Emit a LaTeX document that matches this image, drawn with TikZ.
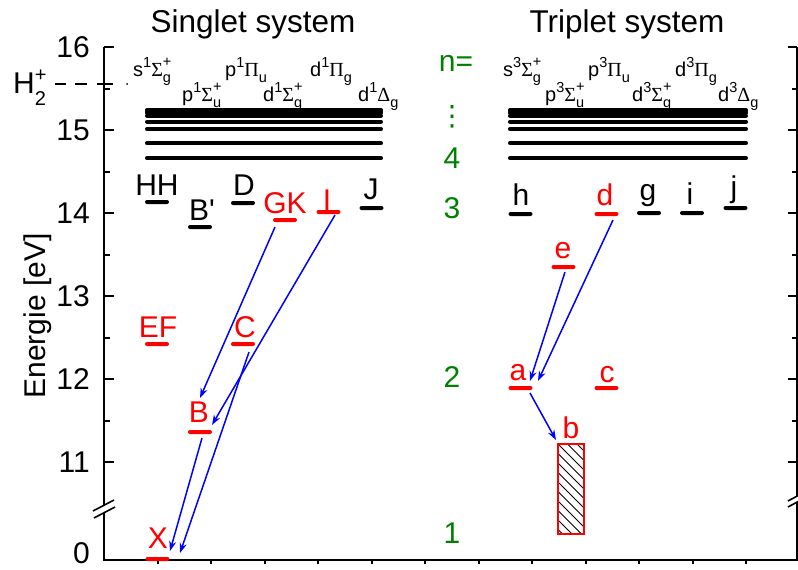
\documentclass[tikz,border=0pt]{standalone}
\usepackage{fontspec}
\setmainfont{Liberation Sans}
\newfontfamily\greekserif{Liberation Serif}
\newfontfamily\symfont{DejaVu Sans}
\usetikzlibrary{arrows.meta}

\definecolor{lvred}{RGB}{255,0,0}
\definecolor{lvgreen}{RGB}{0,128,0}
\definecolor{lvblue}{RGB}{0,0,255}

\newcommand{\bigtxt}{\fontsize{30}{33}\selectfont}
\newcommand{\termtxt}{\fontsize{20}{22}\selectfont}
\newcommand{\scripttxt}{\fontsize{14.5}{14.5}\selectfont}
% term symbol: #1 orbital, #2 multiplicity, #3 Greek letter, #4 subscript, #5 superscript
\newcommand{\term}[5]{#1\raisebox{0.42em}{\scripttxt #2}{\greekserif #3}\rlap{\raisebox{0.5em}{\scripttxt #5}}\raisebox{-0.3em}{\scripttxt #4}}

\begin{document}
\begin{tikzpicture}[x=1pt,y=-1pt,
  lbl/.style={font=\bigtxt, inner sep=0pt, anchor=base},
  redlbl/.style={lbl, text=lvred},
  nlbl/.style={font=\bigtxt, inner sep=0pt, text=lvgreen},
  ticklbl/.style={font=\bigtxt, inner sep=0pt, anchor=east},
  termlbl/.style={font=\termtxt, inner sep=0pt, anchor=base west},
  levelbar/.style={fill=black, minimum width=24pt, minimum height=4pt, inner sep=0pt, rounded corners=2pt},
  redbar/.style={levelbar, fill=lvred},
  rydberg/.style={line width=4pt, line cap=round},
  axisline/.style={line width=2pt},
  trans/.style={lvblue, line width=1.5pt, -{Stealth[length=10pt,width=7pt]}},
  ionline/.style={line width=2pt}]
\useasboundingbox (0,0) rectangle (798,570);

% titles
\node[font=\fontsize{31.5}{34}\selectfont, inner sep=0pt] (tsing) at (253,24) {Singlet system};
\node[font=\fontsize{31.5}{34}\selectfont, inner sep=0pt] (ttrip) at (627,24) {Triplet system};

% axes
\draw[axisline] (104,47) -- (104,560) -- (798,560);
\draw[axisline] (797,47) -- (797,560);
\foreach \yy in {47,130,213,296,379,462} {
  \draw[axisline] (104,\yy) -- (114,\yy);
  \draw[axisline] (788,\yy) -- (797,\yy);
}
\foreach \yy in {88.5,171.5,254.5,337.5,420.5} {
  \draw[axisline] (104,\yy) -- (110,\yy);
  \draw[axisline] (792,\yy) -- (797,\yy);
}
\foreach \xx in {157.5,211,264.5,318,371.5,425,478.5,532,585.5,639,692.5,746} {
  \draw[axisline] (\xx,560) -- (\xx,564);
}
% axis break marks
\fill[white] (93,511) -- (114,500) -- (115,507) -- (94,518) -- cycle;
\draw[line width=1.6pt] (93,511) -- (114,500);
\draw[line width=1.6pt] (94,518) -- (115,507);
\fill[white] (789,500) -- (800,494) -- (800,500) -- (789,506) -- cycle;
\draw[line width=1.6pt] (788,501) -- (800,494.5);
\draw[line width=1.6pt] (788,507) -- (800,500.5);

% tick labels
\node[ticklbl] (y16) at (90,47) {16};
\node[ticklbl] (y15) at (90,130) {15};
\node[ticklbl] (y14) at (90,213) {14};
\node[ticklbl] (y13) at (90,296) {13};
\node[ticklbl] (y12) at (90,379) {12};
\node[ticklbl] (y11) at (90,462) {11};
\node[ticklbl] (y0) at (90,553) {0};
\node[font=\bigtxt, inner sep=0pt, rotate=90] (ylab) at (38,316) {Energie [eV]};

% ionisation limit
\node[font=\bigtxt, inner sep=0pt, anchor=base west] (ion) at (13,93)
  {H\rlap{\raisebox{12pt}{\fontsize{20}{20}\selectfont +}}\raisebox{-12pt}{\fontsize{20}{20}\selectfont 2}};
\draw[ionline] (55,84) -- (66,84);
\draw[ionline] (75,84) -- (87,84);
\draw[ionline] (97,84) -- (113,84);
\fill (127,84) circle (1pt);

% principal quantum numbers
\node[nlbl] (nEq) at (456,63) {n=};
\node[nlbl, font=\symfont\fontsize{28}{28}\selectfont] (ndots) at (452,117) {⋮};
\node[nlbl] (n4) at (452,158) {4};
\node[nlbl] (n3) at (452,208) {3};
\node[nlbl] (n2) at (452,377) {2};
\node[nlbl] (n1) at (452,533) {1};

% term symbols of the Rydberg series
\node[termlbl] (ts1) at (133,76) {\term{s}{1}{Σ}{g}{+}};
\node[termlbl] (ts2) at (182,101) {\term{p}{1}{Σ}{u}{+}};
\node[termlbl] (ts3) at (225,76) {\term{p}{1}{Π}{u}{}};
\node[termlbl] (ts4) at (263,101) {\term{d}{1}{Σ}{g}{+}};
\node[termlbl] (ts5) at (310,76) {\term{d}{1}{Π}{g}{}};
\node[termlbl] (ts6) at (358,101) {\term{d}{1}{Δ}{g}{}};
\node[termlbl] (tt1) at (503,76) {\term{s}{3}{Σ}{g}{+}};
\node[termlbl] (tt2) at (545,101) {\term{p}{3}{Σ}{u}{+}};
\node[termlbl] (tt3) at (588,76) {\term{p}{3}{Π}{u}{}};
\node[termlbl] (tt4) at (632,101) {\term{d}{3}{Σ}{g}{+}};
\node[termlbl] (tt5) at (675,76) {\term{d}{3}{Π}{g}{}};
\node[termlbl] (tt6) at (718,101) {\term{d}{3}{Δ}{g}{}};

% Rydberg levels n >= 4
\foreach \yy in {158.3,143.3,129.3,121.7,115.5,113,111,110} {
  \draw[rydberg] (147,\yy) -- (381,\yy);
  \draw[rydberg] (510,\yy) -- (746,\yy);
}

% singlet levels
\node[levelbar] (HH) at (157,202) {};
\node[levelbar] (Bp) at (200,227) {};
\node[levelbar] (D) at (243,203) {};
\node[redbar] (GK) at (285,220) {};
\node[redbar] (I) at (328.5,212) {};
\node[levelbar] (J) at (371.5,208) {};
\node[redbar] (EF) at (157,344) {};
\node[redbar] (C) at (243,344) {};
\node[redbar] (B) at (200,432) {};
\node[redbar] (X) at (157.5,559) {};

\node[lbl] (lHH) at (157,195) {HH};
\node[lbl] (lBp) at (202,220) {B\textquotesingle};
\node[lbl] (lD) at (244,195) {D};
\node[redlbl] (lGK) at (285,213) {GK};
\node[redlbl] (lI) at (327,210) {I};
\node[lbl] (lJ) at (371,199) {J};
\node[redlbl] (lEF) at (158,337) {EF};
\node[redlbl] (lC) at (245,337) {C};
\node[redlbl] (lB) at (199,422) {B};
\node[redlbl] (lX) at (158,548) {X};

% triplet levels
\node[levelbar] (h) at (520.5,214) {};
\node[redbar] (d) at (606.5,214) {};
\node[levelbar] (g) at (649,213) {};
\node[levelbar] (i) at (692,213) {};
\node[levelbar] (j) at (735.5,208) {};
\node[redbar] (e) at (563.5,267) {};
\node[redbar] (a) at (520.5,388) {};
\node[redbar] (c) at (606.5,388) {};

\node[lbl] (lh) at (521,205) {h};
\node[redlbl] (ld) at (605,205) {d};
\node[lbl] (lg) at (648,200) {g};
\node[lbl] (li) at (690,204) {i};
\node[lbl] (lj) at (734,197) {j};
\node[redlbl] (le) at (563,258) {e};
\node[redlbl] (la) at (518,380) {a};
\node[redlbl] (lc) at (607,382) {c};
\node[redlbl] (lb) at (571,438) {b};

% repulsive b state: hatched box
\node[minimum width=26pt, minimum height=90pt, inner sep=0pt] (bbox) at (571,489) {};
\begin{scope}
  \clip (bbox.north west) rectangle (bbox.south east);
  \foreach \k in {-11,...,3}
    \draw[line width=1pt] (558+9.5*\k,444) -- ++(92,92);
\end{scope}
\node[draw=lvred, line width=2pt, minimum width=26pt, minimum height=90pt, inner sep=0pt] (bframe) at (571,489) {};

% transition end points
\coordinate (GKo) at (275,227);
\coordinate (Bi1) at (200,398);
\coordinate (Io) at (335,215);
\coordinate (Bi2) at (212,425);
\coordinate (Co) at (249,352);
\coordinate (Xi1) at (180,553);
\coordinate (Bo) at (202,438);
\coordinate (Xi2) at (170,551);
\coordinate (eo) at (565,272);
\coordinate (ai1) at (530,381);
\coordinate (do) at (613,220);
\coordinate (ai2) at (538,381);
\coordinate (ao) at (530,393);
\coordinate (bi) at (556,440);

% radiative transitions
\draw[trans] (GKo) -- (Bi1);
\draw[trans] (Io) -- (Bi2);
\draw[trans] (Co) -- (Xi1);
\draw[trans] (Bo) -- (Xi2);
\draw[trans] (eo) -- (ai1);
\draw[trans] (do) -- (ai2);
\draw[trans] (ao) -- (bi);
\end{tikzpicture}
\end{document}
